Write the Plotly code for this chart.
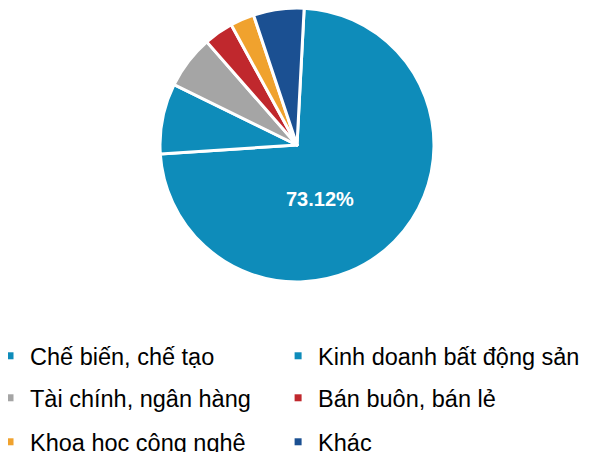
import plotly.graph_objects as go

labels = ["Chế biến, chế tạo", "Kinh doanh bất động sản", "Tài chính, ngân hàng",
          "Bán buôn, bán lẻ", "Khoa học công nghệ", "Khác"]
values = [73.12, 8.32, 6.29, 3.47, 2.83, 5.97]
colors = ["#0E8CBA", "#0E8CBA", "#A5A5A5", "#C0282D", "#F0A22E", "#1B5092"]

# page body has an 8px margin, so figure is 8px smaller than the window
W, H = 584, 444

fig = go.Figure()
fig.add_trace(go.Pie(
    labels=labels, values=values, sort=False, direction="clockwise", rotation=3,
    marker=dict(colors=colors, line=dict(color="white", width=3)),
    textinfo="none",
    domain=dict(x=[0, 0.9897], y=[0.3829, 1]),
    showlegend=False, hoverinfo="label+percent",
))

# label of the biggest slice
fig.add_annotation(x=0.5342, y=0.5698, xref="paper", yref="paper", showarrow=False,
                   text=f"<b>{values[0]:.2f}%</b>",
                   font=dict(color="white", size=20, family="Liberation Sans"))

# legend: one small legend per entry, laid out as 3 rows x 2 columns
cols_x = [-0.0308, 0.4625]
rows_y = [0.2162, 0.1216, 0.0225]
layout_legends = {}
for i, (lab, col) in enumerate(zip(labels, colors)):
    key = "legend" if i == 0 else f"legend{i + 1}"
    fig.add_trace(go.Scatter(
        x=[None], y=[None], mode="markers", name=lab,
        marker=dict(symbol="square", size=7, color=col),
        legend=key, showlegend=True,
    ))
    layout_legends[key] = dict(
        x=cols_x[i % 2], y=rows_y[i // 2], xanchor="left", yanchor="middle",
        font=dict(family="Liberation Sans", size=23.5, color="#000000"),
        bgcolor="rgba(0,0,0,0)",
    )

fig.update_layout(
    width=W, height=H, margin=dict(l=0, r=0, t=0, b=0, autoexpand=False),
    paper_bgcolor="white", plot_bgcolor="white",
    xaxis=dict(visible=False), yaxis=dict(visible=False),
    **layout_legends,
)

fig.write_html("out.html")
